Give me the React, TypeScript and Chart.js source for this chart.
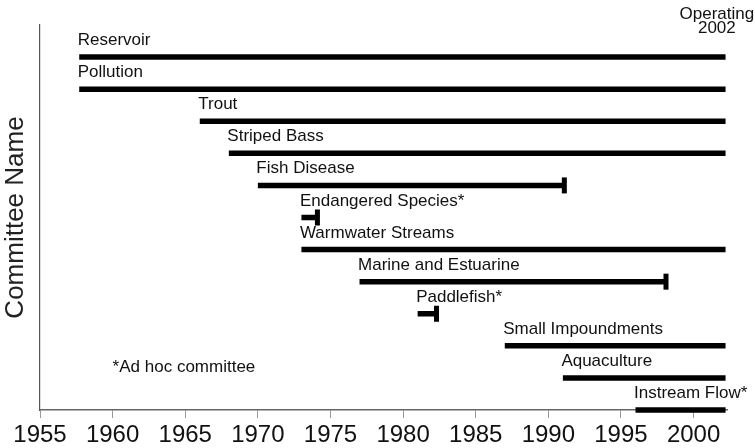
import React, { useEffect, useRef } from "react";
import { Chart, registerables } from "chart.js";

Chart.register(...registerables);

const COMMITTEES = [
  "Reservoir",
  "Pollution",
  "Trout",
  "Striped Bass",
  "Fish Disease",
  "Endangered Species*",
  "Warmwater Streams",
  "Marine and Estuarine",
  "Paddlefish*",
  "Small Impoundments",
  "Aquaculture",
  "Instream Flow*",
];
const START_YEARS = [1957.7, 1957.7, 1966, 1968, 1970, 1973, 1973, 1977, 1981, 1987, 1991, 1996];
const END_YEARS = [2002.2, 2002.2, 2002.2, 2002.2, 1991.1, 1974.1, 2002.2, 1998.1, 1982.3, 2002.2, 2002.2, 2002.2];
const DISBANDED = [false, false, false, false, true, true, false, true, true, false, false, false];
const X_TICKS = [1955, 1960, 1965, 1970, 1975, 1980, 1985, 1990, 1995, 2000];
const X_MIN = 1955;
const X_MAX = 2002.3;
const NOTE_TEXT = "*Ad hoc committee";
const NOTE_YEAR = 1960;
const NOTE_ROW = 1.18;
const OPERATING_LINES = ["Operating", "2002"];
const OPERATING_YEAR = 2001.6;

const FONT = '"Liberation Sans", Arial, sans-serif';

export default function App() {
  const ref = useRef<HTMLCanvasElement | null>(null);

  useEffect(() => {
    if (!ref.current) return;
    const n = COMMITTEES.length;
    const rowOf = (i: number) => n - 1 - i;

    const barSets = COMMITTEES.map((name, i) => ({
      label: name,
      data: [
        { x: START_YEARS[i], y: rowOf(i) },
        { x: END_YEARS[i], y: rowOf(i) },
      ],
      showLine: true,
      borderColor: "#000",
      backgroundColor: "#000",
      borderWidth: 5.5,
      borderCapStyle: "butt" as const,
      pointRadius: 0,
      clip: false as const,
    }));

    const capSet = {
      label: "end",
      data: COMMITTEES.map((_, i) => (DISBANDED[i] ? { x: END_YEARS[i], y: rowOf(i) } : null)).filter(
        (d) => d !== null
      ),
      showLine: false,
      pointStyle: "line" as const,
      rotation: 90,
      pointRadius: 8,
      pointBorderWidth: 5,
      borderColor: "#000",
      backgroundColor: "#000",
      clip: false as const,
    };

    const labelPlugin = {
      id: "labels",
      afterDatasetsDraw(chart: any) {
        const { ctx, scales } = chart;
        const xs = scales.x;
        const ys = scales.y;
        ctx.save();
        ctx.fillStyle = "#111";
        ctx.font = `17px ${FONT}`;
        ctx.textAlign = "left";
        ctx.textBaseline = "alphabetic";
        COMMITTEES.forEach((name, i) => {
          const x = xs.getPixelForValue(START_YEARS[i]) - 1.5;
          const y = ys.getPixelForValue(rowOf(i)) - 12;
          ctx.fillText(name, x, y);
        });
        ctx.fillText(NOTE_TEXT, xs.getPixelForValue(NOTE_YEAR), ys.getPixelForValue(NOTE_ROW));
        ctx.textAlign = "center";
        const ox = xs.getPixelForValue(OPERATING_YEAR);
        const top = ys.getPixelForValue(ys.max);
        ctx.fillText(OPERATING_LINES[0], ox, top - 6);
        ctx.fillText(OPERATING_LINES[1], ox, top + 8);
        ctx.restore();
      },
    };

    const chart = new Chart(ref.current, {
      type: "scatter",
      data: { datasets: [...barSets, capSet] as any },
      options: {
        responsive: false,
        animation: false,
        events: [],
        layout: { padding: { left: 0, top: 25, right: 28, bottom: 0 } },
        plugins: { legend: { display: false }, tooltip: { enabled: false } },
        scales: {
          x: {
            type: "linear",
            min: X_MIN,
            max: X_MAX,
            afterBuildTicks: (scale: any) => {
              scale.ticks = X_TICKS.map((v) => ({ value: v }));
            },
            afterFit: (scale: any) => {
              scale.height = 38;
            },
            ticks: {
              autoSkip: false,
              maxRotation: 0,
              padding: 3,
              color: "#111",
              font: { family: FONT, size: 24 },
              callback: (v: any) => String(v),
            },
            grid: { drawOnChartArea: false, drawTicks: true, tickLength: 8, color: "#999" },
            border: { display: true, color: "#666", width: 1.5 },
          },
          y: {
            type: "linear",
            min: 0,
            max: 12,
            afterFit: (scale: any) => {
              scale.width = 40;
            },
            ticks: { display: false },
            grid: { display: false },
            border: { display: true, color: "#555", width: 1.2 },
            title: {
              display: true,
              text: "Committee Name",
              color: "#222",
              font: { family: FONT, size: 26 },
              padding: 0,
            },
          },
        },
      },
      plugins: [labelPlugin],
    });

    return () => chart.destroy();
  }, []);

  return (
    <div style={{ position: "fixed", left: 0, top: 0, width: 755, height: 448, background: "#fff" }}>
      <canvas ref={ref} width={755} height={448} style={{ display: "block" }} />
    </div>
  );
}
